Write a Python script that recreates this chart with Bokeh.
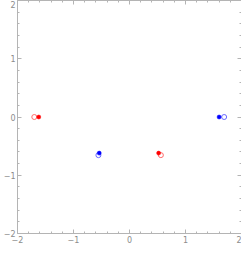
from bokeh.plotting import figure
from bokeh.models import LinearAxis, Range1d, FixedTicker
from bokeh.embed import file_html
from bokeh.resources import INLINE

# data
red_filled_x = [-1.62, 0.52]
red_filled_y = [0.0, -0.62]
red_open_x = [-1.70, 0.56]
red_open_y = [0.0, -0.655]
blue_filled_x = [-0.54, 1.60]
blue_filled_y = [-0.62, 0.0]
blue_open_x = [-0.555, 1.69]
blue_open_y = [-0.655, 0.0]

major_ticks = [-2, -1, 0, 1, 2]
minor_ticks = [round(-2 + 0.2 * i, 1) for i in range(21)]
tick_labels = {-2: "\u22122", -1: "\u22121", 0: "0", 1: "1", 2: "2"}

p = figure(width=241, height=245, output_backend="svg", toolbar_location=None,
           x_range=Range1d(-2, 2), y_range=Range1d(-2, 2),
           x_axis_location=None, y_axis_location=None,
           min_border_left=0, min_border_right=0, min_border_top=0, min_border_bottom=0)
p.grid.visible = False
p.outline_line_color = None
p.background_fill_color = "white"

axis_color = "#b4b4b4"
label_color = "#8c8c8c"

def style(ax, labels):
    ax.ticker = FixedTicker(ticks=major_ticks, minor_ticks=minor_ticks)
    ax.axis_line_color = axis_color
    ax.major_tick_line_color = axis_color
    ax.minor_tick_line_color = axis_color
    ax.major_tick_in = 4
    ax.major_tick_out = 0
    ax.minor_tick_in = 2
    ax.minor_tick_out = 0
    if labels:
        ax.major_label_standoff = 2
        ax.major_label_overrides = tick_labels
        ax.major_label_text_color = label_color
        ax.major_label_text_font_size = "8px"
        ax.major_label_text_font = "DejaVu Sans"
    else:
        ax.major_label_standoff = 0
        ax.major_label_text_color = None
        ax.major_label_text_alpha = 0
        ax.major_label_text_font_size = "1px"

for loc, labels in [("below", True), ("above", False)]:
    ax = LinearAxis()
    style(ax, labels)
    p.add_layout(ax, loc)
for loc, labels in [("left", True), ("right", False)]:
    ax = LinearAxis()
    style(ax, labels)
    p.add_layout(ax, loc)

p.scatter(red_open_x, red_open_y, marker="circle", size=5, fill_color=None,
          line_color="#ff6b6b", line_width=1)
p.scatter(red_filled_x, red_filled_y, marker="circle", size=4, fill_color="#ff0000",
          line_color="#ff0000", line_width=0.5)
p.scatter(blue_open_x, blue_open_y, marker="circle", size=5, fill_color=None,
          line_color="#6b6bff", line_width=1)
p.scatter(blue_filled_x, blue_filled_y, marker="circle", size=4, fill_color="#0000ff",
          line_color="#0000ff", line_width=0.5)

open("out.html", "w").write(file_html(p, INLINE))
